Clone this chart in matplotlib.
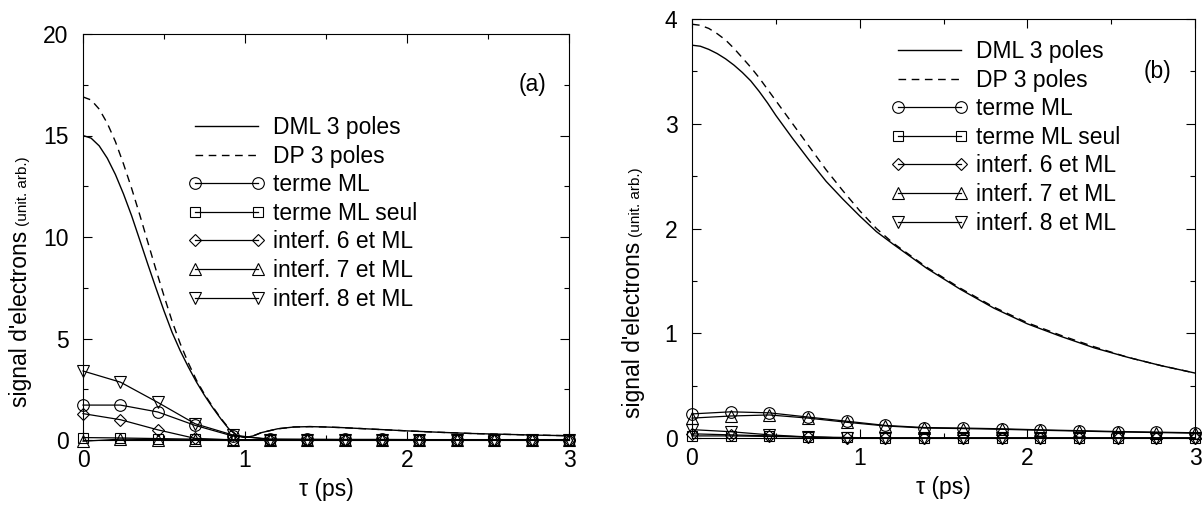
import matplotlib
matplotlib.use('Agg')
import matplotlib.pyplot as plt
from matplotlib.ticker import MultipleLocator

plt.rcParams['font.family'] = ['Liberation Sans', 'DejaVu Sans']

# ---------------- data ----------------
# continuous curves, panel (a)
tau_a = [0, 0.05, 0.1, 0.15, 0.2, 0.25, 0.3, 0.35, 0.4, 0.45, 0.5, 0.55, 0.6, 0.65,
         0.7, 0.75, 0.8, 0.85, 0.9, 0.95, 1.0, 1.05, 1.1, 1.2, 1.3, 1.4, 1.5, 1.6,
         1.8, 2.0, 2.2, 2.4, 2.6, 2.8, 3.0]
dml_a = [15.0, 14.87, 14.49, 13.88, 13.08, 12.12, 11.05, 9.86, 8.66, 7.49, 6.36, 5.3,
         4.4, 3.6, 2.86, 2.2, 1.6, 1.05, 0.55, 0.22, 0.12, 0.2, 0.36, 0.55, 0.64,
         0.66, 0.64, 0.61, 0.53, 0.45, 0.38, 0.32, 0.28, 0.24, 0.21]
dp_a = [16.9, 16.75, 16.3, 15.6, 14.7, 13.6, 12.4, 11.1, 9.75, 8.4, 7.1, 5.85,
        4.75, 3.8, 2.95, 2.25, 1.65, 1.08, 0.58, 0.23, 0.12, 0.2, 0.36, 0.55, 0.64,
        0.66, 0.64, 0.61, 0.53, 0.45, 0.38, 0.32, 0.28, 0.24, 0.21]

# continuous curves, panel (b)
tau_b = [0, 0.05, 0.1, 0.15, 0.2, 0.25, 0.3, 0.35, 0.4, 0.45, 0.5, 0.55, 0.6, 0.7,
         0.8, 0.9, 1.0, 1.1, 1.2, 1.4, 1.6, 1.8, 2.0, 2.2, 2.4, 2.6, 2.8, 3.0]
dml_b = [3.75, 3.74, 3.71, 3.67, 3.62, 3.56, 3.49, 3.41, 3.31, 3.20, 3.08, 2.97,
         2.86, 2.65, 2.45, 2.28, 2.12, 1.97, 1.85, 1.62, 1.42, 1.24, 1.09, 0.97,
         0.86, 0.77, 0.69, 0.62]
dp_b = [3.95, 3.94, 3.91, 3.86, 3.80, 3.72, 3.63, 3.54, 3.44, 3.33, 3.22, 3.11,
        3.00, 2.78, 2.56, 2.36, 2.17, 2.00, 1.86, 1.63, 1.43, 1.25, 1.10, 0.98,
        0.87, 0.77, 0.69, 0.62]

# sampled components (marker positions)
tau_m = [0, 0.231, 0.462, 0.692, 0.923, 1.154, 1.385, 1.615, 1.846, 2.077, 2.308,
         2.538, 2.769, 3.0]

ml_a     = [1.72, 1.72, 1.38, 0.72, 0.20, 0.05, 0.04, 0.03, 0.03, 0.02, 0.02, 0.02, 0.02, 0.02]
mlseul_a = [0.12, 0.10, 0.07, 0.04, 0.02, 0.01, 0.01, 0.01, 0.0, 0.0, 0.0, 0.0, 0.0, 0.0]
i6_a     = [1.30, 1.00, 0.50, 0.08, 0.0, 0.0, 0.0, 0.0, 0.0, 0.0, 0.0, 0.0, 0.0, 0.0]
i7_a     = [-0.06, 0.04, 0.02, 0.01, 0.0, 0.0, 0.0, 0.0, 0.0, 0.0, 0.0, 0.0, 0.0, 0.0]
i8_a     = [3.40, 2.85, 1.85, 0.80, 0.25, 0.02, 0.01, 0.0, 0.0, 0.0, 0.0, 0.0, 0.0, 0.0]

ml_b     = [0.23, 0.25, 0.24, 0.20, 0.16, 0.12, 0.10, 0.095, 0.088, 0.078, 0.070, 0.062, 0.056, 0.050]
mlseul_b = [0.02, 0.02, 0.015, 0.01, 0.005, 0.0, 0.0, 0.0, 0.0, 0.0, 0.0, 0.0, 0.0, 0.0]
i6_b     = [0.04, 0.03, 0.02, 0.01, 0.0, 0.0, 0.0, 0.0, 0.0, 0.0, 0.0, 0.0, 0.0, 0.0]
i7_b     = [0.19, 0.21, 0.22, 0.19, 0.15, 0.115, 0.095, 0.09, 0.083, 0.074, 0.066, 0.058, 0.052, 0.046]
i8_b     = [0.08, 0.06, 0.03, 0.01, 0.0, 0.0, 0.0, 0.0, 0.0, 0.0, 0.0, 0.0, 0.0, 0.0]

labels = ['DML 3 poles', 'DP 3 poles', 'terme ML', 'terme ML seul',
          'interf. 6 et ML', 'interf. 7 et ML', 'interf. 8 et ML']
xticks = [0, 1, 2, 3]
yticks_a = [0, 5, 10, 15, 20]
yticks_b = [0, 1, 2, 3, 4]

# ---------------- figure ----------------
W, H = 1202, 508
fig = plt.figure(figsize=(W / 100, H / 100), dpi=100)

def axes_px(x0, x1, ytop, ybot):
    return fig.add_axes([x0 / W, (H - ybot) / H, (x1 - x0) / W, (ybot - ytop) / H])

FS = 16.5
mk = dict(mfc='none', mec='k', mew=0.8, color='k', lw=0.9, clip_on=False)
styles = [('o', 8.4), ('s', 6.7), ('D', 6.0), ('^', 8.4), ('v', 8.4)]

def panel(ax, tau, dml, dp, comps, ylim, yticks, yminor, leg_anchor, tag):
    ax.plot(tau, dml, color='k', lw=1.0, label=labels[0])
    ax.plot(tau, dp, color='k', lw=1.0, ls=(0, (5.5, 4.0)), label=labels[1])
    for (m, ms), vals, lab in zip(styles, comps, labels[2:]):
        ax.plot(tau_m, vals, marker=m, ms=ms, label=lab, **mk)
    ax.set_xlim(0, 3)
    ax.set_ylim(*ylim)
    ax.set_xticks(xticks)
    ax.set_yticks(yticks)
    ax.xaxis.set_minor_locator(MultipleLocator(0.5))
    ax.yaxis.set_minor_locator(MultipleLocator(yminor))
    ax.tick_params(which='both', direction='in', top=True, right=True, width=0.8,
                   labelsize=FS)
    ax.tick_params(which='major', length=6.5)
    ax.tick_params(which='minor', length=3.5)
    ax.tick_params(axis='x', which='major', pad=6.5)
    ax.tick_params(axis='y', which='major', pad=10.5)
    for s in ax.spines.values():
        s.set_linewidth(0.8)
    ax.set_xlabel('τ (ps)', fontsize=FS, labelpad=4)
    ax.legend(loc='upper left', bbox_to_anchor=leg_anchor, frameon=False,
              fontsize=FS, handlelength=3.35, handletextpad=0.35,
              labelspacing=0.245, borderpad=0, borderaxespad=0, numpoints=2)
    ax.text(0.925, 0.875, tag, transform=ax.transAxes, fontsize=FS,
            ha='center', va='center')

axA = axes_px(83, 569, 34, 440)
axB = axes_px(692, 1195, 19, 438)

panel(axA, tau_a, dml_a, dp_a, [ml_a, mlseul_a, i6_a, i7_a, i8_a], (0, 20),
      yticks_a, 2.5, (0.2165, 0.798), '(a)')
panel(axB, tau_b, dml_b, dp_b, [ml_b, mlseul_b, i6_b, i7_b, i8_b], (0, 4),
      yticks_b, 0.5, (0.396, 0.950), '(b)')

# y labels (main part + smaller unit part)
def ylab(xbase, ystart):
    fig.text(xbase / W, (H - ystart) / H, "signal d'electrons", fontsize=FS,
             rotation=90, rotation_mode='anchor', ha='left', va='baseline')
    fig.text(xbase / W, (H - ystart + 181) / H, "(unit. arb.)", fontsize=11,
             rotation=90, rotation_mode='anchor', ha='left', va='baseline')

ylab(27, 407)
ylab(640, 418)

fig.savefig('out.png', dpi=100)
